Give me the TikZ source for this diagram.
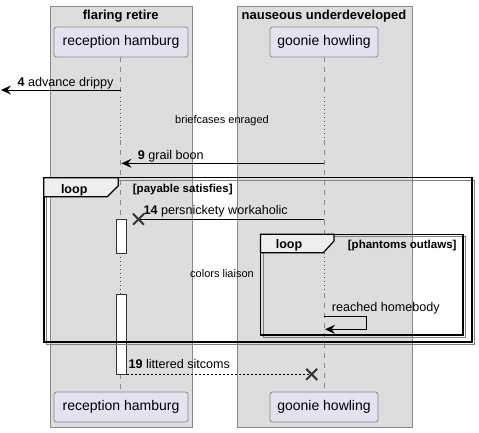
\documentclass[tikz,border=0pt]{standalone}
\usepackage{fontspec}
\setmainfont{Liberation Sans}
\usetikzlibrary{arrows.meta}
\definecolor{boxbg}{HTML}{DDDDDD}
\definecolor{boxline}{HTML}{888888}
\definecolor{partbg}{HTML}{E2E2F0}
\definecolor{delayc}{HTML}{D0104A}
\definecolor{tabbg}{HTML}{EEEEEE}
\begin{document}
\begin{tikzpicture}[x=1pt,y=-1pt,
  grp/.style={fill=boxbg,draw=boxline,line width=0.8,anchor=north west,inner sep=0},
  grptitle/.style={font=\bfseries\fontsize{13}{15}\selectfont,anchor=base,inner sep=0},
  part/.style={draw=boxline,fill=partbg,rounded corners=2.5,minimum height=30,inner sep=0,font=\fontsize{14}{16}\selectfont,line width=0.8},
  life/.style={boxline,dash pattern=on 5 off 5,line width=0.8},
  delay/.style={delayc,dash pattern=on 1 off 3,line width=1},
  act/.style={draw=black!80,fill=white,line width=0.8,anchor=north,inner sep=0,minimum width=10.4},
  msg/.style={line width=1,-{Stealth[length=10,width=9,inset=3.5]}},
  ret/.style={line width=0.8,dash pattern=on 2 off 2},
  lbl/.style={font=\fontsize{12.6}{14}\selectfont,anchor=base west,inner sep=0},
  notetxt/.style={font=\fontsize{11}{13}\selectfont,anchor=base,inner sep=0},
  framebox/.style={line width=1.5,draw=black},
  fshadow/.style={line width=0.9,draw=black!50},
  tabshape/.style={fill=tabbg,draw=black,line width=1.2},
  tabtxt/.style={font=\bfseries\fontsize{12.5}{14}\selectfont,anchor=base,inner sep=0},
  cond/.style={font=\bfseries\fontsize{11.5}{13}\selectfont,anchor=base west,inner sep=0},
  cross/.style={line width=2,draw=black!80}
]
\useasboundingbox (0,0) rectangle (479,432);
\fill[white] (0,0) rectangle (479,432);

% groups
\node[grp,minimum width=141.7,minimum height=421] (grp1) at (50,6) {};
\node[grp,minimum width=174.4,minimum height=421] (grp2) at (237.3,6) {};
\node[grptitle] (t1) at (120.8,19.5) {flaring retire};
\node[grptitle] (t2) at (324,19.5) {nauseous underdeveloped};

% lifeline coordinates
\coordinate (r0) at (120.5,57);
\coordinate (r1) at (120.5,97);
\coordinate (r2) at (120.5,140);
\coordinate (r3) at (120.5,219.3);
\coordinate (r4) at (120.5,252.7);
\coordinate (r5) at (120.5,294);
\coordinate (r6) at (120.5,374);
\coordinate (r7) at (120.5,392);
\coordinate (g0) at (324.3,57);
\coordinate (g1) at (324.3,97);
\coordinate (g2) at (324.3,140);
\coordinate (g3) at (324.3,234);
\coordinate (g4) at (324.3,253);
\coordinate (g5) at (324.3,293);
\coordinate (g6) at (324.3,392);

\draw[life] (r0) -- (r1);
\draw[delay] (r1) -- (r2);
\draw[life] (r2) -- (r3);
\draw[delay] (r4) -- (r5);
\draw[life] (r6) -- (r7);
\draw[life] (g0) -- (g1);
\draw[delay] (g1) -- (g2);
\draw[life] (g2) -- (g3);
\draw[delay] (g4) -- (g5);
\draw[life] (g5) -- (g6);

% activations
\node[act,minimum height=33.4] (a1) at (121.5,219.3) {};
\node[act,minimum height=80] (a2) at (121.5,294) {};

% participants
\node[part,minimum width=134] (rtop) at (121,42) {reception hamburg};
\node[part,minimum width=108] (gtop) at (324,42) {goonie howling};
\node[part,minimum width=134] (rbot) at (121,407) {reception hamburg};
\node[part,minimum width=108] (gbot) at (324,407) {goonie howling};

% outer loop frame
\draw[fshadow] (46.3,180.2) rectangle (474.5,344.5);
\draw[framebox] (43.8,177.7) rectangle (472,342);
\draw[tabshape] (43.8,177.7) -- (118.3,177.7) -- (118.3,185.7) -- (107.3,196.7) -- (43.8,196.7) -- cycle;
\node[tabtxt] (lp1) at (74.2,193.3) {loop};
\node[cond] (c1) at (132.7,192.3) {[payable satisfies]};

% inner loop frame
\draw[fshadow] (263,236.8) rectangle (465.5,337.5);
\draw[framebox] (260.5,234.3) rectangle (463,335);
\draw[tabshape] (260.5,234.3) -- (334,234.3) -- (334,241) -- (323.3,252.7) -- (260.5,252.7) -- cycle;
\node[tabtxt] (lp2) at (289,248.3) {loop};
\node[cond] (c2) at (347.7,248) {[phantoms outlaws]};

% message 4
\coordinate (m4s) at (120.5,90);
\coordinate (m4e) at (1,90);
\draw[msg] (m4s) -- (m4e);
\node[lbl] (l4) at (17.3,86) {\textbf{4} advance drippy};

% delay note
\node[notetxt] (n1) at (222,123.3) {briefcases enraged};

% message 9
\coordinate (m9s) at (324.3,163.3);
\coordinate (m9e) at (121.5,163.3);
\draw[msg] (m9s) -- (m9e);
\node[lbl] (l9) at (137.7,159) {\textbf{9} grail boon};

% message 14
\coordinate (m14s) at (324.3,219.2);
\coordinate (x14) at (138.5,219.2);
\draw[line width=1] (m14s) -- (x14);
\draw[cross] ([shift={(-5.5,-5.5)}]x14) -- ([shift={(5.5,5.5)}]x14);
\draw[cross] ([shift={(-5.5,5.5)}]x14) -- ([shift={(5.5,-5.5)}]x14);
\node[lbl] (l14) at (143.3,214) {\textbf{14} persnickety workaholic};

% delay note 2
\node[notetxt] (n2) at (222,277.7) {colors liaison};

% self message
\coordinate (ss) at (324.3,316.7);
\coordinate (sa) at (366.7,316.7);
\coordinate (sb) at (366.7,329.3);
\coordinate (se) at (325,329.3);
\draw[msg] (ss) -- (sa) -- (sb) -- (se);
\node[lbl] (ls) at (331.7,311) {reached homebody};

% message 19
\coordinate (m19s) at (126.7,374.3);
\coordinate (x19) at (311.7,374.3);
\draw[ret] (m19s) -- (x19);
\draw[cross] ([shift={(-5.5,-5.5)}]x19) -- ([shift={(5.5,5.5)}]x19);
\draw[cross] ([shift={(-5.5,5.5)}]x19) -- ([shift={(5.5,-5.5)}]x19);
\node[lbl] (l19) at (128.3,368.3) {\textbf{19} littered sitcoms};
\end{tikzpicture}
\end{document}
